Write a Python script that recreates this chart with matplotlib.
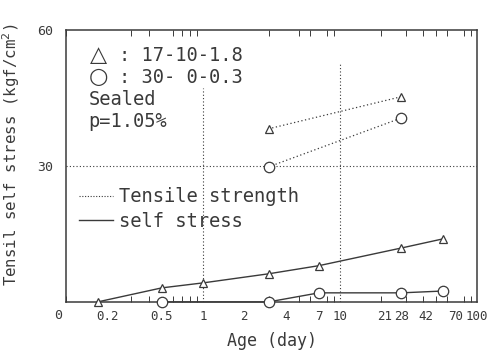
import numpy as np
import matplotlib
matplotlib.use("Agg")
import matplotlib.pyplot as plt
from matplotlib.lines import Line2D
from matplotlib.ticker import LogLocator, NullFormatter

plt.rcParams['font.family'] = ['DejaVu Sans Mono', 'DejaVu Sans']

# self stress, mix 17-10-1.8 (triangles) and 30-0-0.3 (circles)
age_tri = [0.17, 0.5, 1, 3, 7, 28, 56]
self_tri = [0.0, 3.1, 4.2, 6.2, 8.0, 11.9, 13.9]
age_circ = [0.5, 3, 7, 28, 56]
self_circ = [0.0, 0.0, 2.0, 2.0, 2.4]

# tensile strength at 3 and 28 days
age_ts = [3, 28]
ts_tri = [38.2, 45.3]
ts_circ = [29.8, 40.6]

xtick_vals = [0.2, 0.5, 1, 2, 4, 7, 10, 21, 28, 42, 70, 100]
xtick_text = ['0.2', '0.5', '1', '2', '4', '7', '10', '21', '28', '42', '70', '100']

ink = '#3a3a3a'

fig = plt.figure(figsize=(4.93, 3.62), dpi=100)
ax = fig.add_axes([0.134, 0.166, 0.834, 0.751])

ax.set_xscale('log')
ax.set_xlim(0.1, 100)
ax.set_ylim(0, 60)

mk = dict(color=ink, markerfacecolor='white', markeredgecolor=ink,
          markeredgewidth=0.9, clip_on=False, zorder=4)

ax.plot(age_tri, self_tri, '-', marker='^', markersize=6, lw=1.0, **mk)
ax.plot(age_circ, self_circ, '-', marker='o', markersize=7.5, lw=1.0, **mk)
ax.plot(age_ts, ts_tri, linestyle=(0, (1, 2)), marker='^', markersize=6, lw=0.9, **mk)
ax.plot(age_ts, ts_circ, linestyle=(0, (1, 2)), marker='o', markersize=7.5, lw=0.9, **mk)

# reference lines
ax.axhline(30, color=ink, lw=0.8, linestyle=(0, (1, 2)), zorder=1)
ax.axvline(1, ymin=0, ymax=0.787, color=ink, lw=0.8, linestyle=(0, (1, 2)), zorder=1)
ax.axvline(10, ymin=0, ymax=0.882, color=ink, lw=0.8, linestyle=(0, (1, 2)), zorder=1)

for s in ax.spines.values():
    s.set_color(ink)
    s.set_linewidth(1.1)

ax.set_xticks(xtick_vals)
ax.set_xticklabels(xtick_text)
ax.xaxis.set_minor_locator(LogLocator(base=10, subs=np.arange(1, 10), numticks=20))
ax.xaxis.set_minor_formatter(NullFormatter())
ax.tick_params(axis='x', which='major', length=0, pad=6, labelsize=9, colors=ink)
ax.tick_params(axis='x', which='minor', direction='in', length=4, width=0.7,
               top=True, bottom=True, color=ink)
ax.set_yticks([30, 60])
ax.tick_params(axis='y', length=0, pad=9, labelsize=9.5, colors=ink)
ax.text(-0.02, -0.025, '0', transform=ax.transAxes, ha='center', va='top',
        fontsize=9.5, color=ink)

ax.set_xlabel('Age (day)', fontsize=12, color=ink, labelpad=6)
ax.set_ylabel('Tensil self stress (kgf/cm$^2$)', fontsize=11.3, color=ink)
ax.yaxis.set_label_coords(-0.107, 0.54)

# mix key and curing notes
ax.text(0.078, 0.908, '△', transform=ax.transAxes, ha='center', va='center',
        fontsize=16, family='DejaVu Sans', color=ink)
ax.text(0.078, 0.827, '○', transform=ax.transAxes, ha='center', va='center',
        fontsize=16, family='DejaVu Sans', color=ink)
ax.text(0.128, 0.908, ': 17-10-1.8', transform=ax.transAxes, ha='left',
        va='center', fontsize=13.5, color=ink)
ax.text(0.128, 0.827, ': 30- 0-0.3', transform=ax.transAxes, ha='left',
        va='center', fontsize=13.5, color=ink)
ax.text(0.054, 0.746, 'Sealed', transform=ax.transAxes, ha='left',
        va='center', fontsize=13.5, color=ink)
ax.text(0.054, 0.665, 'p=1.05%', transform=ax.transAxes, ha='left',
        va='center', fontsize=13.5, color=ink)

handles = [Line2D([], [], color=ink, lw=0.8, linestyle=(0, (1, 1.5))),
           Line2D([], [], color=ink, lw=1.0)]
ax.legend(handles, ['Tensile strength', 'self stress'], loc='upper left',
          bbox_to_anchor=(0.0, 0.47), frameon=False, fontsize=13.5,
          handlelength=1.8, handletextpad=0.3, labelspacing=0.3,
          borderaxespad=0.3, labelcolor=ink)

fig.savefig('out.png', dpi=100)
